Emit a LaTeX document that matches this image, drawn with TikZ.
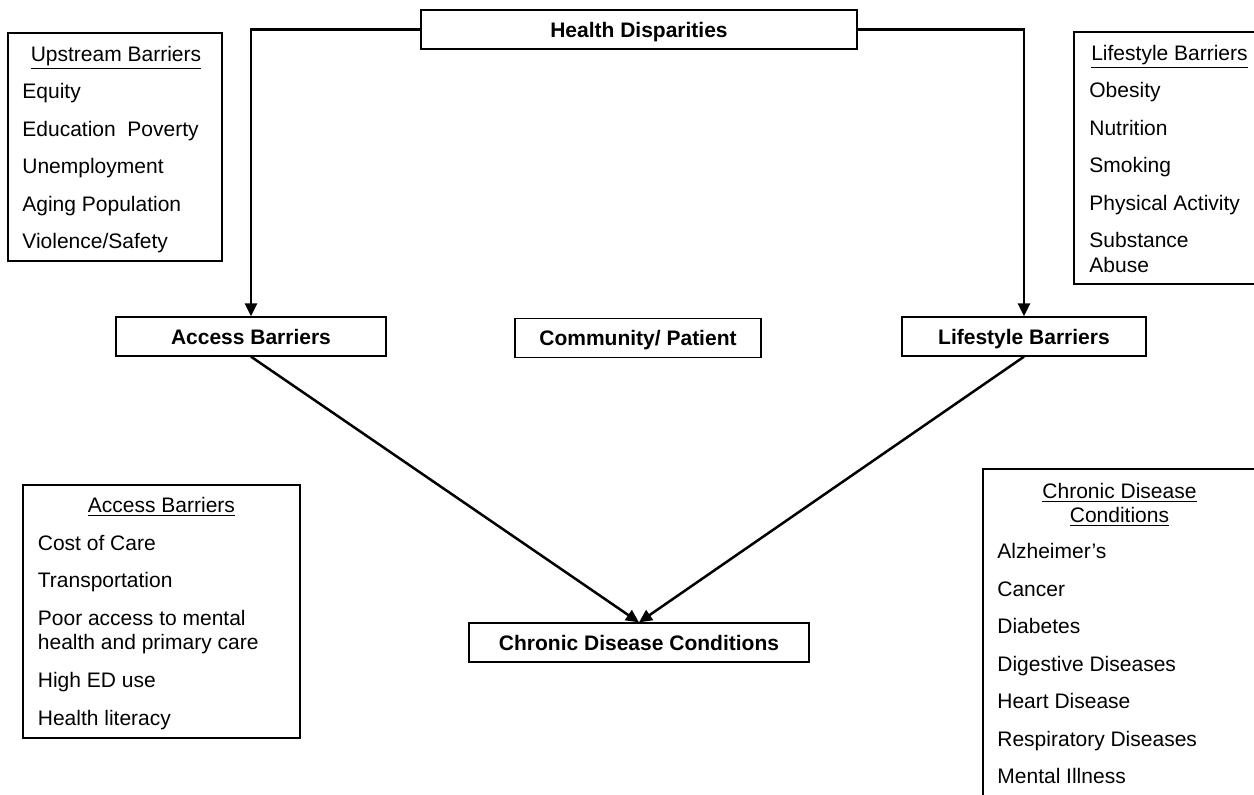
\documentclass[tikz,border=0pt]{standalone}
\usepackage{fontspec}
\setmainfont{Liberation Sans}
\usetikzlibrary{arrows.meta}
\newcommand\diagfont{\fontsize{10.5pt}{12.6pt}\selectfont}
\tikzset{every node/.style={font=\diagfont},
  barrier/.style={draw, line width=0.65pt, font=\diagfont\bfseries, minimum height=19.5pt, inner sep=0pt, text height=9.5pt, text depth=2pt},
  listbox/.style={line width=0.65pt},
  listhead/.style={anchor=base, inner sep=0pt},
  listitem/.style={anchor=base west, inner sep=0pt},
  flow/.style={line width=1.25pt, -{Triangle[length=6.5pt,width=6pt]}}}

\begin{document}
\begin{tikzpicture}[x=0.5pt,y=-0.5pt]
   \clip (0,0) rectangle (1254,794);
   \node[barrier, minimum width=218pt] (hd)  at (639,29.5)  {Health Disparities};
   \node[barrier, minimum width=135pt] (ab)  at (251,336.5) {Access Barriers};
   \node[barrier, minimum width=123pt] (cp)  at (638,338)   {Community/ Patient};
   \node[barrier, minimum width=122pt] (lb)  at (1024,336.5) {Lifestyle Barriers};
   \node[barrier, minimum width=170pt] (cdc) at (639,642.5) {Chronic Disease Conditions};
   \draw[flow] (hd.west) -| (ab.north);
   \draw[flow] (hd.east) -| (lb.north);
   \draw[flow] (ab.south) -- (cdc.north);
   \draw[flow] (lb.south) -- (cdc.north);

   \draw[listbox] (8,33) rectangle (222,261);
   \node[listhead] (up0) at (116,61)   {\underline{Upstream Barriers}};
   \node[listitem] (up1) at (22,98.5)  {Equity};
   \node[listitem] (up2) at (22,136)   {Education\ \ Poverty};
   \node[listitem] (up3) at (22,173.5) {Unemployment};
   \node[listitem] (up4) at (22,211)   {Aging Population};
   \node[listitem] (up5) at (22,248.5) {Violence/Safety};

   \draw[listbox] (1074,32) rectangle (1280,284);
   \node[listhead] (ls0) at (1169.5,60) {\underline{Lifestyle Barriers}};
   \node[listitem] (ls1) at (1089,97.5) {Obesity};
   \node[listitem] (ls2) at (1089,135)  {Nutrition};
   \node[listitem] (ls3) at (1089,172.5) {Smoking};
   \node[listitem] (ls4) at (1089,210)  {Physical Activity};
   \node[listitem] (ls5) at (1089,247.5) {Substance};
   \node[listitem] (ls6) at (1089,272)  {Abuse};

   \draw[listbox] (23,485) rectangle (300,738);
   \node[listhead] (ac0) at (161.5,512.5) {\underline{Access Barriers}};
   \node[listitem] (ac1) at (37.5,550)  {Cost of Care};
   \node[listitem] (ac2) at (37.5,587.5) {Transportation};
   \node[listitem] (ac3) at (37.5,625)  {Poor access to mental};
   \node[listitem] (ac4) at (37.5,649.5) {health and primary care};
   \node[listitem] (ac5) at (37.5,687.5) {High ED use};
   \node[listitem] (ac6) at (37.5,725)  {Health literacy};

   \draw[listbox] (983,469) rectangle (1280,820);
   \node[listhead] (cd0) at (1119.5,498.5) {\underline{Chronic Disease}};
   \node[listhead] (cd1) at (1119.5,522.5) {\underline{Conditions}};
   \node[listitem] (cd2) at (997,558.5) {Alzheimer’s};
   \node[listitem] (cd3) at (997,596)   {Cancer};
   \node[listitem] (cd4) at (997,633.5) {Diabetes};
   \node[listitem] (cd5) at (997,671)   {Digestive Diseases};
   \node[listitem] (cd6) at (997,708.5) {Heart Disease};
   \node[listitem] (cd7) at (997,746)   {Respiratory Diseases};
   \node[listitem] (cd8) at (997,783.5) {Mental Illness};
\end{tikzpicture}
\end{document}
